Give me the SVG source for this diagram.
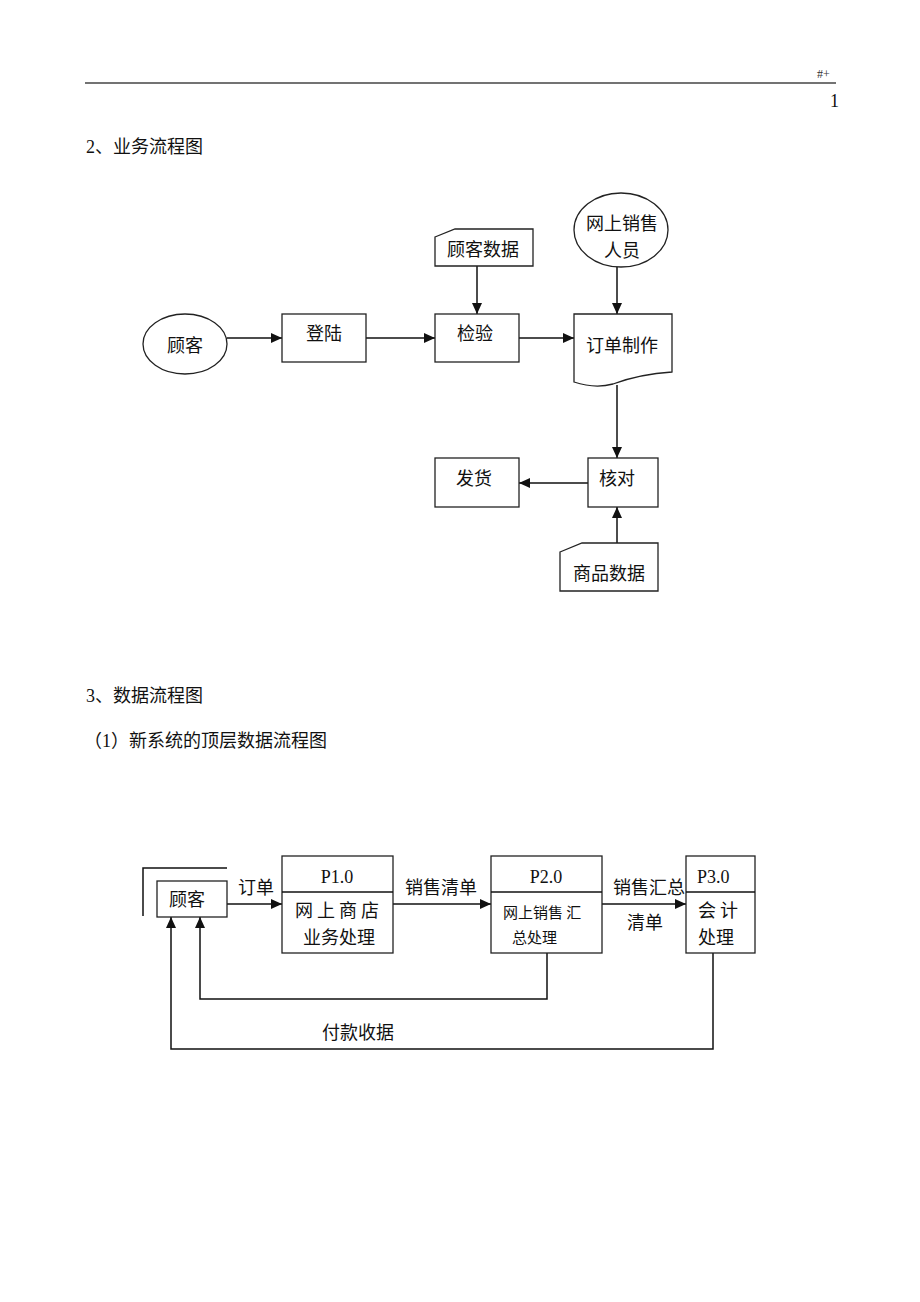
<svg xmlns="http://www.w3.org/2000/svg" width="920" height="1302" viewBox="0 0 920 1302">
<defs>
<style>
.t{font-family:"Liberation Serif","Noto Sans CJK SC",serif;font-size:18px;fill:#111}
.c{font-family:"Noto Sans CJK SC",sans-serif;font-size:18px;fill:#111}
.s{font-family:"Noto Sans CJK SC",sans-serif;font-size:15px;fill:#111}
.m{text-anchor:middle}
.sh{fill:#fff;stroke:#222;stroke-width:1.3}
.ln{fill:none;stroke:#111;stroke-width:1.5}
.ar{fill:none;stroke:#111;stroke-width:1.5;marker-end:url(#ah)}
</style>
<marker id="ah" viewBox="0 0 11 10" refX="11" refY="5" markerWidth="11" markerHeight="10" markerUnits="userSpaceOnUse" orient="auto">
<path d="M0,0 L11,5 L0,10 Z" fill="#111"/>
</marker>
</defs>
<rect width="920" height="1302" fill="#fff"/>
<g id="header">
<line x1="85" y1="83" x2="836" y2="83" stroke="#444" stroke-width="1.5"/>
<text x="817" y="78" style="font-family:'Liberation Serif',serif;font-size:12px;fill:#333">#+</text>
<text x="830" y="107" class="t">1</text>
<text x="86" y="153" class="t">2、业务流程图</text>
<text x="86" y="702" class="t">3、数据流程图</text>
<text x="84" y="747" class="t">（1）新系统的顶层数据流程图</text>
</g>
<g id="connectors-top">
<line class="ar" x1="227" y1="338" x2="282" y2="338"/>
<line class="ar" x1="366" y1="338" x2="435" y2="338"/>
<line class="ar" x1="477" y1="266" x2="477" y2="314"/>
<line class="ar" x1="519" y1="338" x2="574" y2="338"/>
<line class="ar" x1="617" y1="267" x2="617" y2="314"/>
<line class="ar" x1="617" y1="385" x2="617" y2="458"/>
<line class="ar" x1="588" y1="483" x2="519" y2="483"/>
<line class="ar" x1="617" y1="543" x2="617" y2="507"/>
</g>
<g id="n-guke">
<ellipse class="sh" cx="185" cy="344" rx="42" ry="30"/>
<text class="c m" x="185" y="352">顾客</text>
</g>
<g id="n-denglu">
<rect class="sh" x="282" y="314" width="84" height="48"/>
<text class="c m" x="324" y="340">登陆</text>
</g>
<g id="n-jianyan">
<rect class="sh" x="435" y="314" width="84" height="48"/>
<text class="c m" x="475" y="340">检验</text>
</g>
<g id="n-gukeshuju">
<path class="sh" d="M435,237 L455,229 H533 V266 H435 Z"/>
<text class="c m" x="483" y="256">顾客数据</text>
</g>
<g id="n-xiaoshou">
<ellipse class="sh" cx="621" cy="230" rx="47" ry="37"/>
<text class="c m" x="622" y="230">网上销售</text>
<text class="c m" x="622" y="257">人员</text>
</g>
<g id="n-dingdan">
<path class="sh" d="M574,314 H672 V372 Q640,374 613,384 Q595,389 574,382 Z"/>
<text class="c m" x="622" y="352">订单制作</text>
</g>
<g id="n-hedui">
<rect class="sh" x="588" y="458" width="70" height="49"/>
<text class="c m" x="617" y="485">核对</text>
</g>
<g id="n-fahuo">
<rect class="sh" x="435" y="458" width="84" height="49"/>
<text class="c m" x="474" y="485">发货</text>
</g>
<g id="n-shangpin">
<path class="sh" d="M560,552 L582,543 H658 V591 H560 Z"/>
<text class="c m" x="609" y="580">商品数据</text>
</g>
<g id="connectors-bottom">
<line class="ar" x1="227" y1="904" x2="282" y2="904"/>
<line class="ar" x1="393" y1="904" x2="491" y2="904"/>
<line class="ar" x1="602" y1="904" x2="686" y2="904"/>
<polyline class="ar" points="547,953 547,999 200,999 200,917"/>
<polyline class="ar" points="713,953 713,1049 171,1049 171,917"/>
<text class="c m" x="256" y="894">订单</text>
<text class="c m" x="441" y="894">销售清单</text>
<text class="c m" x="649" y="894">销售汇总</text>
<text class="c m" x="645" y="929">清单</text>
<text class="c m" x="358" y="1039">付款收据</text>
</g>
<g id="e-guke">
<path class="ln" d="M143,916 V868 H227"/>
<rect class="sh" x="157" y="881" width="70" height="36"/>
<text class="c m" x="187" y="906">顾客</text>
</g>
<g id="p1">
<rect class="sh" x="282" y="856" width="111" height="97"/>
<line class="ln" x1="282" y1="892" x2="393" y2="892"/>
<text class="t m" x="337" y="883">P1.0</text>
<text class="c" x="295" y="917" xml:space="preserve">网 上 商 店</text>
<text class="c m" x="339" y="944">业务处理</text>
</g>
<g id="p2">
<rect class="sh" x="491" y="856" width="111" height="97"/>
<line class="ln" x1="491" y1="892" x2="602" y2="892"/>
<text class="t m" x="546" y="883">P2.0</text>
<text class="s" x="503" y="918" xml:space="preserve">网上销售 汇</text>
<text class="s" x="512" y="943">总处理</text>
</g>
<g id="p3">
<rect class="sh" x="686" y="856" width="69" height="97"/>
<line class="ln" x1="686" y1="892" x2="755" y2="892"/>
<text class="t" x="697" y="883">P3.0</text>
<text class="c" x="698" y="917" xml:space="preserve">会 计</text>
<text class="c" x="698" y="944">处理</text>
</g>
</svg>
